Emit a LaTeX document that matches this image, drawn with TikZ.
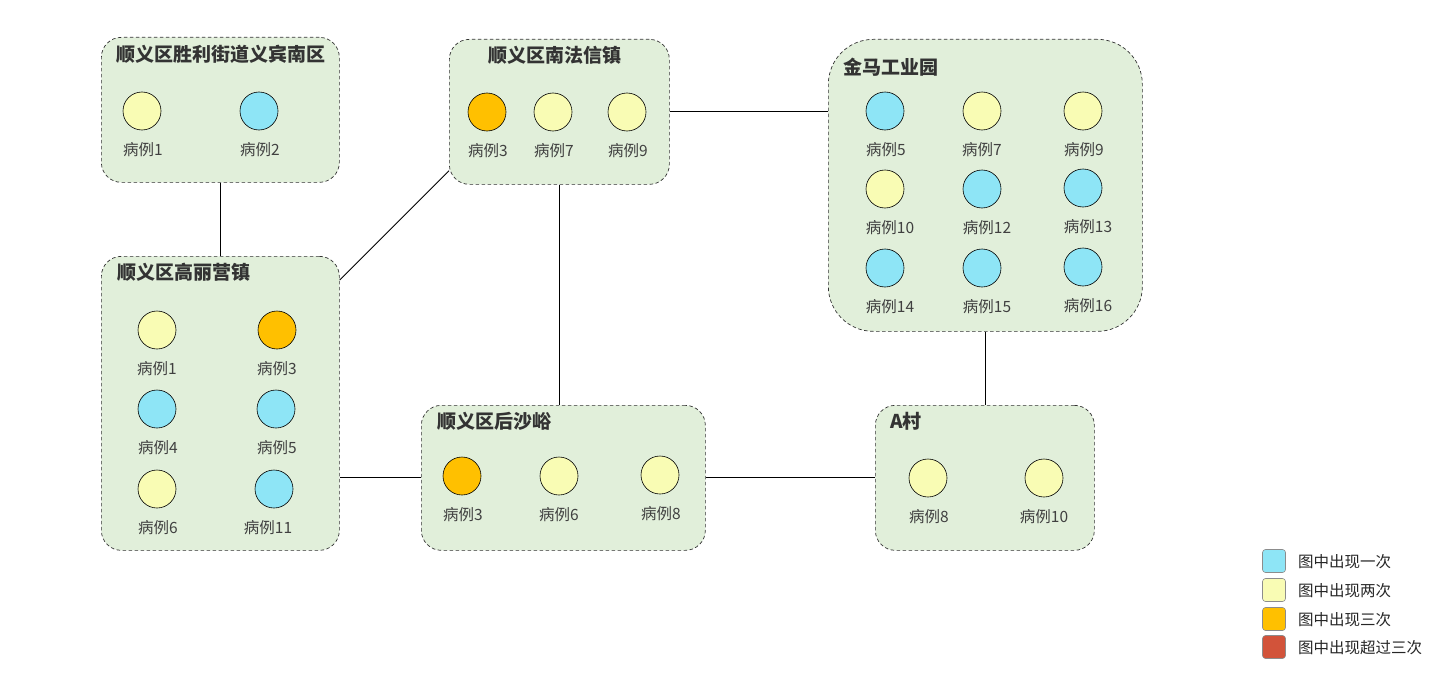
\documentclass[tikz,border=0pt]{standalone}
\usepackage{fontspec}
\setmainfont{Noto Sans CJK SC}
\usetikzlibrary{calc}
\definecolor{grp}{HTML}{E1EFDA}
\definecolor{one}{HTML}{8EE5F6}
\definecolor{two}{HTML}{F9FCB4}
\definecolor{three}{HTML}{FFC000}
\definecolor{more}{HTML}{D2533A}
\definecolor{txt}{HTML}{404040}
\newcommand\mycase[6]{\node[casec,fill=#4] (#1) at (#2,#3) {}; \node[lab] (#1l) at (#5,#3+39) {#6};}
\begin{document}
\begin{tikzpicture}[x=1pt,y=-1pt,
  group/.style={draw=black!80, dash pattern=on 3.5pt off 2.5pt, line width=0.7pt, fill=grp, rounded corners=20pt, inner sep=0pt, anchor=north west},
  casec/.style={circle, draw=black, line width=0.6pt, minimum size=38pt, inner sep=0pt},
  lab/.style={font=\fontsize{15.5}{15.5}\selectfont, text=txt, inner sep=0pt},
  ttl/.style={font=\bfseries\fontsize{19}{19}\selectfont, text=black!80, inner sep=0pt},
  legbox/.style={draw=black!45, line width=0.6pt, rounded corners=3pt, minimum size=23pt, inner sep=0pt},
  legtxt/.style={font=\fontsize{15.5}{15.5}\selectfont, text=black!85, anchor=west, inner sep=0pt},
  conn/.style={draw=black, line width=0.8pt}]
\useasboundingbox (0,0) rectangle (1448,677);
% groups
\node[group, minimum width=238pt, minimum height=145pt] (b1) at (101,37) {};
\node[group, minimum width=220pt, minimum height=145pt] (b2) at (449,39) {};
\node[group, rounded corners=45pt, minimum width=314pt, minimum height=292pt] (b3) at (828,39) {};
\node[group, minimum width=238pt, minimum height=294pt] (b4) at (101,256) {};
\node[group, minimum width=284pt, minimum height=145pt] (b5) at (421,405) {};
\node[group, minimum width=219pt, minimum height=145pt] (b6) at (875,405) {};
% titles
\node[ttl] (t1) at (221,54) {顺义区胜利街道义宾南区};
\node[ttl] (t2) at (555,55) {顺义区南法信镇};
\node[ttl, anchor=west] (t3) at (843,67) {金马工业园};
\node[ttl, anchor=west] (t4) at (117,272) {顺义区高丽营镇};
\node[ttl, anchor=west] (t5) at (437,421) {顺义区后沙峪};
\node[ttl, anchor=west] (t6) at (890,421) {A村};
% connectors
\draw[conn] (b1.south) -- (b4.north);
\draw[conn] ($(b4.north east)+(0,24)$) -- ($(b2.south west)+(0,-14)$);
\draw[conn] (b2.east) -- (b2.east -| b3.west);
\draw[conn] (b2.south) -- (b2.south |- b5.north);
\draw[conn] (b5.west) -- (b5.west -| b4.east);
\draw[conn] (b5.east) -- (b6.west);
\draw[conn] (b3.south) -- (b3.south |- b6.north);
% cases box1
\mycase{a1}{142}{111}{two}{143}{病例1}
\mycase{a2}{259}{111}{one}{260}{病例2}
% box2
\mycase{n3}{487}{112}{three}{488}{病例3}
\mycase{n7}{553}{112}{two}{554}{病例7}
\mycase{n9}{627}{112}{two}{628}{病例9}
% box3
\mycase{j5}{885}{111}{one}{886}{病例5}
\mycase{j7}{982}{111}{two}{982}{病例7}
\mycase{j9}{1083}{111}{two}{1084}{病例9}
\mycase{j10}{885}{189}{two}{890}{病例10}
\mycase{j12}{982}{189}{one}{987}{病例12}
\mycase{j13}{1083}{188}{one}{1088}{病例13}
\mycase{j14}{885}{268}{one}{890}{病例14}
\mycase{j15}{982}{268}{one}{987}{病例15}
\mycase{j16}{1083}{267}{one}{1088}{病例16}
% box4
\mycase{g1}{157}{330}{two}{157}{病例1}
\mycase{g3}{277}{330}{three}{277}{病例3}
\mycase{g4}{157}{409}{one}{158}{病例4}
\mycase{g5}{276}{409}{one}{277}{病例5}
\mycase{g6}{157}{489}{two}{158}{病例6}
\mycase{g11}{274}{489}{one}{268}{病例11}
% box5
\mycase{h3}{462}{476}{three}{463}{病例3}
\mycase{h6}{559}{476}{two}{559}{病例6}
\mycase{h8}{660}{475}{two}{661}{病例8}
% box6
\mycase{v8}{928}{478}{two}{929}{病例8}
\mycase{v10}{1044}{478}{two}{1044}{病例10}
% legend
\node[legbox, fill=one] (k1) at (1274,561) {};
\node[legbox, fill=two] (k2) at (1274,590) {};
\node[legbox, fill=three] (k3) at (1274,619) {};
\node[legbox, fill=more] (k4) at (1274,647) {};
\node[legtxt] (k1t) at (1298,562) {图中出现一次};
\node[legtxt] (k2t) at (1298,591) {图中出现两次};
\node[legtxt] (k3t) at (1298,620) {图中出现三次};
\node[legtxt] (k4t) at (1298,648) {图中出现超过三次};
\end{tikzpicture}
\end{document}
